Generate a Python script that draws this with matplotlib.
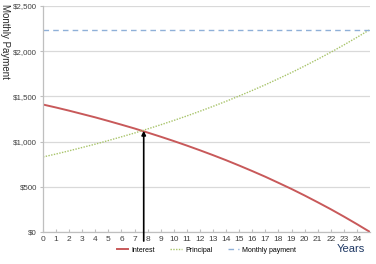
import numpy as np
import matplotlib.pyplot as plt
import matplotlib.ticker as mticker

# Values (start of each year, 0..25)
years = list(range(26))
interest = [1410, 1377, 1342, 1305, 1268, 1228, 1187, 1145, 1100, 1054,
            1006, 956, 904, 850, 794, 735, 674, 611, 544, 476,
            404, 329, 252, 171, 87, 0]
principal = [830, 863, 898, 935, 972, 1012, 1053, 1095, 1140, 1186,
             1234, 1284, 1336, 1390, 1446, 1505, 1566, 1629, 1696, 1764,
             1836, 1911, 1988, 2069, 2153, 2240]
payment = [2240] * 26
crossover_year = 7.7
crossover_value = 1120

plt.rcParams['font.family'] = ['Liberation Sans', 'DejaVu Sans']

fig = plt.figure(figsize=(3.76, 2.64), dpi=100)
ax = fig.add_axes([43 / 376, 1 - 232 / 264, (370 - 43) / 376, (232 - 6) / 264])

ax.plot(years, interest, color='#C8595A', lw=1.4, label='Interest')
ax.plot(years, principal, color='#A8C46A', lw=1.0, linestyle=(0, (1, 1)), label='Principal')
ax.plot(years, payment, color='#8FB0D8', lw=1.0, linestyle=(0, (4, 3)), label='Monthly payment')

# arrow marking where principal overtakes interest
ax.annotate('', xy=(crossover_year, crossover_value), xytext=(crossover_year, -100),
            arrowprops=dict(arrowstyle='-|>', color='black', lw=1.2,
                            mutation_scale=6, shrinkA=0, shrinkB=0),
            annotation_clip=False)

ax.set_xlim(0, 25)
ax.set_ylim(0, 2500)
ax.set_xticks(range(25))
ax.set_yticks(range(0, 2501, 500))
ax.yaxis.set_major_formatter(mticker.FuncFormatter(lambda v, p: '${:,.0f}'.format(v)))

ax.grid(axis='y', color='#D9D9D9', lw=0.9)
ax.set_axisbelow(True)
for side in ['top', 'right']:
    ax.spines[side].set_visible(False)
for side in ['left', 'bottom']:
    ax.spines[side].set_color('#BFBFBF')
    ax.spines[side].set_linewidth(0.9)

ax.tick_params(axis='x', direction='in', length=2.5, color='#BFBFBF',
               labelsize=6, labelcolor='#404040', pad=3)
ax.tick_params(axis='y', direction='out', length=2.5, color='#BFBFBF',
               labelsize=5.7, labelcolor='#404040', pad=2)

fig.text(0.012, 0.985, 'Monthly Payment', rotation=270, va='top', ha='center',
         fontsize=7, color='#262626')
fig.text(0.97, 0.055, 'Years', ha='right', va='center', fontsize=8, color='#1F3864')

leg = ax.legend(loc='center', bbox_to_anchor=(0.5, -0.08), ncol=3,
                fontsize=5, frameon=False, handlelength=1.6, columnspacing=2.2,
                handletextpad=0.5)

plt.savefig('out.png', dpi=100)
